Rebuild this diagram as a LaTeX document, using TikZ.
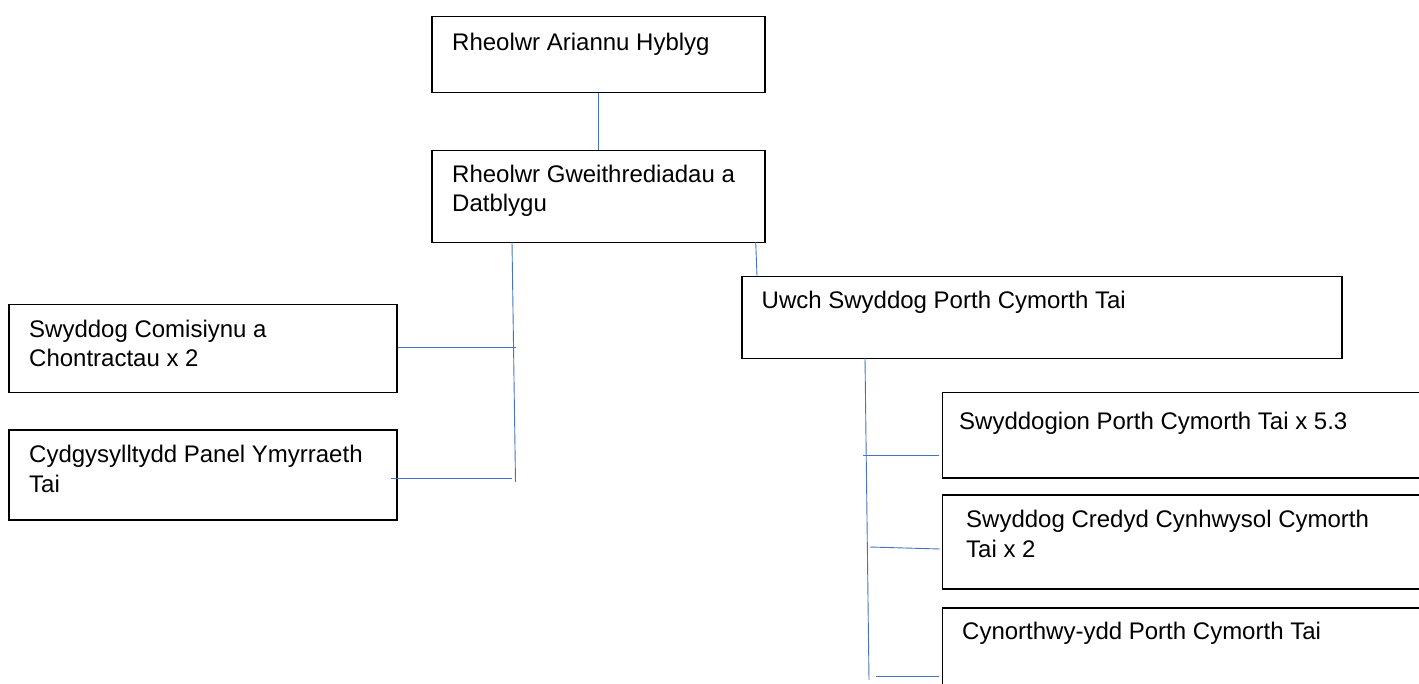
\documentclass[tikz,border=0pt]{standalone}
\usepackage{fontspec}
\setmainfont{Liberation Sans}
\definecolor{conn}{RGB}{68,114,196}
\begin{document}
\begin{tikzpicture}[x=1pt,y=1pt,
  box/.style={draw=black,line width=1.5pt,fill=none,inner sep=0pt,anchor=north west},
  txt/.style={anchor=base west,inner sep=0pt,font=\fontsize{24}{29}\selectfont,align=left},
  link/.style={draw=conn,line width=0.9pt}]
\useasboundingbox (0,0) rectangle (1419,-684);
\clip (0,0) rectangle (1419,-684);
% boxes
\node[box,minimum width=333,minimum height=76] (b1) at (431,-16) {};
\node[box,minimum width=333,minimum height=92] (b2) at (431,-150) {};
\node[box,minimum width=600,minimum height=82] (b3) at (741,-276) {};
\node[box,minimum width=388,minimum height=88] (b4) at (8,-304) {};
\node[box,minimum width=388,minimum height=90] (b5) at (8,-429) {};
\node[box,minimum width=500,minimum height=85] (b6) at (941.5,-392) {};
\node[box,minimum width=500,minimum height=94] (b7) at (941.5,-494) {};
\node[box,minimum width=500,minimum height=90] (b8) at (941.5,-607) {};
% texts
\node[txt] (t1) at (452,-51) {Rheolwr Ariannu Hyblyg};
\node[txt] (t2) at (452,-183) {Rheolwr Gweithrediadau a};
\node[txt] (t2b) at (452,-212) {Datblygu};
\node[txt] (t3) at (761.5,-309) {Uwch Swyddog Porth Cymorth Tai};
\node[txt] (t4) at (29,-338) {Swyddog Comisiynu a};
\node[txt] (t4b) at (29,-367) {Chontractau x 2};
\node[txt] (t5) at (29,-462) {Cydgysylltydd Panel Ymyrraeth};
\node[txt] (t5b) at (29,-492) {Tai};
\node[txt] (t6) at (959,-429) {Swyddogion Porth Cymorth Tai x 5.3};
\node[txt] (t7) at (966,-527) {Swyddog Credyd Cynhwysol Cymorth};
\node[txt] (t7b) at (966,-557) {Tai x 2};
\node[txt] (t8) at (962,-639) {Cynorthwy-ydd Porth Cymorth Tai};
% connector coordinates
\coordinate (lt) at (512,-242);
\coordinate (lb) at (515.5,-482);
\coordinate (l4) at (516,-347);
\coordinate (l4s) at (398,-347);
\coordinate (l5) at (512,-478);
\coordinate (l5s) at (391,-478);
\coordinate (rt) at (755.7,-242);
\coordinate (rb) at (757,-276);
\coordinate (st) at (865,-358);
\coordinate (sb) at (869,-680);
\coordinate (s6) at (863,-455);
\coordinate (s6e) at (939,-455);
\coordinate (s7) at (869.5,-547);
\coordinate (s7e) at (940,-549);
\coordinate (s8) at (876,-676);
\coordinate (s8e) at (939,-676);
% connectors
\draw[link] (b1.south) -- (b2.north);
\draw[link] (lt) -- (lb);
\draw[link] (l4s) -- (l4);
\draw[link] (l5s) -- (l5);
\draw[link] (rt) -- (rb);
\draw[link] (st) -- (sb);
\draw[link] (s6) -- (s6e);
\draw[link] (s7) -- (s7e);
\draw[link] (s8) -- (s8e);
\end{tikzpicture}
\end{document}
